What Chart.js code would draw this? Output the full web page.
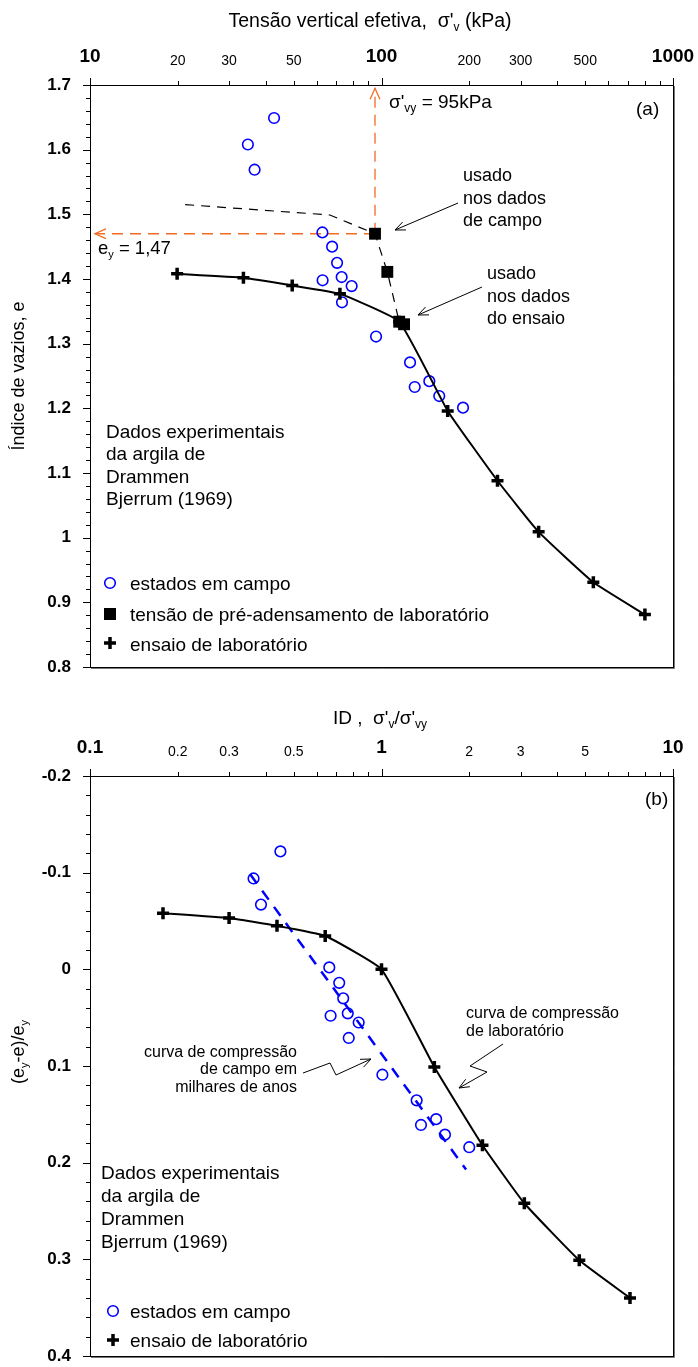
<!DOCTYPE html>
<html lang="pt">
<head>
<meta charset="utf-8">
<script src="https://cdn.jsdelivr.net/npm/chart.js@4.4.1/dist/chart.umd.min.js"></script>
<style>
  body { margin: 0; background: #fff; }
  canvas { position: absolute; left: 0; }
</style>
</head>
<body>
<canvas id="chartA" width="698" height="680" style="top:0"></canvas>
<canvas id="chartB" width="698" height="687" style="top:680px"></canvas>
<script>
const FONT = "'Liberation Sans', Arial, Helvetica, sans-serif";
const BLUE = '#0000ff';
const ORANGE = '#f26b22';

// (a) tensão vertical efetiva (kPa) x índice de vazios
const fieldSigma = [42.8, 34.8, 36.7, 62.7, 67.7, 70.4, 73.0, 62.8, 79.0, 73.2, 95.8, 125.3, 145.9, 130.0, 157.8, 190.4];
const fieldE     = [1.649, 1.608, 1.569, 1.472, 1.450, 1.425, 1.403, 1.398, 1.389, 1.364, 1.311, 1.271, 1.242, 1.233, 1.219, 1.201];
const preSigma = [95, 104.7, 115, 119.5];
const preE     = [1.47, 1.411, 1.334, 1.330];
const labSigma = [19.9, 33.6, 49.4, 72.0, 115, 168.7, 250, 346, 533, 801];
const labE     = [1.408, 1.402, 1.390, 1.377, 1.334, 1.196, 1.088, 1.009, 0.931, 0.881];
const trendSigma = [21.2, 66.5, 95, 104.7, 115];
const trendE     = [1.515, 1.499, 1.47, 1.411, 1.334];
const sigmaVy = 95;
const eY = 1.47;
const sigmaTicks  = [10, 20, 30, 40, 50, 60, 70, 80, 90, 100, 200, 300, 400, 500, 600, 700, 800, 900, 1000];
const sigmaLabels = ['10', '20', '30', '', '50', '', '', '', '', '100', '200', '300', '', '500', '', '', '', '', '1000'];
const eTicks = [0.8, 0.9, 1, 1.1, 1.2, 1.3, 1.4, 1.5, 1.6, 1.7];

// (b) ID = σ'v/σ'vy x (ey-e)/ey
const idField = [0.450, 0.364, 0.386, 0.662, 0.716, 0.739, 0.669, 0.766, 0.835, 0.772, 1.007, 1.32, 1.54, 1.366, 1.651, 2.0];
const dField  = [-0.122, -0.094, -0.067, -0.002, 0.014, 0.030, 0.048, 0.0455, 0.055, 0.071, 0.109, 0.1355, 0.155, 0.161, 0.171, 0.184];
const idLab = [0.178, 0.300, 0.438, 0.641, 1.0, 1.518, 2.22, 3.09, 4.77, 7.12];
const dLab  = [-0.058, -0.053, -0.045, -0.0345, 0.0, 0.101, 0.182, 0.242, 0.301, 0.340];
const idFit = [0.355, 1.95];
const dFit  = [-0.098, 0.207];
const idTicks  = [0.1, 0.2, 0.3, 0.4, 0.5, 0.6, 0.7, 0.8, 0.9, 1, 2, 3, 4, 5, 6, 7, 8, 9, 10];
const idLabels = ['0.1', '0.2', '0.3', '', '0.5', '', '', '', '', '1', '2', '3', '', '5', '', '', '', '', '10'];
const dTicks = [-0.2, -0.1, 0, 0.1, 0.2, 0.3, 0.4];

const pts = (xs, ys) => xs.map((x, i) => ({ x, y: ys[i] }));
const isDecade = v => Math.abs(Math.log10(v) - Math.round(Math.log10(v))) < 1e-9;

function logAxis(ticks, labels, min, max, height) {
  return {
    type: 'logarithmic', position: 'top', min, max,
    afterBuildTicks: s => { s.ticks = ticks.map(v => ({ value: v })); },
    afterFit: s => { s.height = height; s.paddingLeft = 0; s.paddingRight = 0; },
    ticks: {
      autoSkip: false, maxRotation: 0, minRotation: 0, padding: 8, color: '#000',
      callback: (v, i) => labels[i],
      font: c => isDecade(c.tick.value)
        ? { family: FONT, size: 19, weight: 'bold', lineHeight: 2.1 }
        : { family: FONT, size: 14, lineHeight: 2.3 }
    },
    grid: { display: false, drawTicks: false },
    border: { display: false }
  };
}

function valueAxis(ticks, min, max, reverse) {
  return {
    type: 'linear', position: 'left', min, max, reverse,
    afterBuildTicks: s => { s.ticks = ticks.map(v => ({ value: v })); },
    afterFit: s => { s.width = 90; s.paddingTop = 0; s.paddingBottom = 0; },
    ticks: {
      padding: 19, color: '#000',
      font: { family: FONT, size: 17, weight: 'bold' },
      callback: v => String(+v.toFixed(2))
    },
    grid: { display: false, drawTicks: false },
    border: { display: false }
  };
}

// texto com partes em subscrito (prefixo '_')
function rich(ctx, parts, x, y, size, align) {
  const sub = Math.round(size * 0.62);
  const items = parts.map(p => p[0] === '_'
    ? { t: p.slice(1), f: sub + 'px ' + FONT, dy: size * 0.22 }
    : { t: p, f: size + 'px ' + FONT, dy: 0 });
  let w = 0;
  items.forEach(it => { ctx.font = it.f; it.w = ctx.measureText(it.t).width; w += it.w; });
  let cx = align === 'center' ? x - w / 2 : align === 'right' ? x - w : x;
  const base = y + size * 0.36;
  ctx.textAlign = 'left';
  ctx.textBaseline = 'alphabetic';
  ctx.fillStyle = '#000';
  items.forEach(it => { ctx.font = it.f; ctx.fillText(it.t, cx, base + it.dy); cx += it.w; });
}

function lines(ctx, rows, x, y0, step, size, align) {
  rows.forEach((r, i) => rich(ctx, [r], x, y0 + i * step, size, align || 'left'));
}

function arrowHead(ctx, fx, fy, tx, ty, len, spread) {
  const a = Math.atan2(ty - fy, tx - fx);
  ctx.beginPath();
  ctx.moveTo(tx - len * Math.cos(a - spread), ty - len * Math.sin(a - spread));
  ctx.lineTo(tx, ty);
  ctx.lineTo(tx - len * Math.cos(a + spread), ty - len * Math.sin(a + spread));
  ctx.stroke();
}

function polyArrow(ctx, path) {
  ctx.save();
  ctx.strokeStyle = '#000';
  ctx.lineWidth = 1;
  ctx.setLineDash([]);
  ctx.beginPath();
  path.forEach(([px, py], i) => i ? ctx.lineTo(px, py) : ctx.moveTo(px, py));
  ctx.stroke();
  const n = path.length;
  arrowHead(ctx, path[n - 2][0], path[n - 2][1], path[n - 1][0], path[n - 1][1], 11, 0.4);
  ctx.restore();
}

function frameAndTicks(ctx, area, xs, xTicks, ys, yMajor, yMinorStep) {
  ctx.save();
  ctx.setLineDash([]);
  ctx.strokeStyle = '#000';
  ctx.lineWidth = 1;
  ctx.beginPath();
  xTicks.forEach(v => {
    const px = Math.round(xs.getPixelForValue(v)) + 0.5;
    ctx.moveTo(px, area.top);
    ctx.lineTo(px, area.top - (isDecade(v) ? 7 : 4));
  });
  const lo = Math.min(...yMajor), hi = Math.max(...yMajor);
  const n = Math.round((hi - lo) / yMinorStep);
  for (let k = 0; k <= n; k++) {
    const v = lo + k * yMinorStep;
    const py = Math.round(ys.getPixelForValue(v)) + 0.5;
    ctx.moveTo(area.left, py);
    ctx.lineTo(area.left - (k % 5 === 0 ? 7 : 4), py);
  }
  ctx.stroke();
  ctx.strokeRect(Math.round(area.left) + 0.5, Math.round(area.top) + 0.5,
    Math.round(area.right - area.left), Math.round(area.bottom - area.top));
  ctx.strokeStyle = '#777';
  ctx.beginPath();
  ctx.moveTo(Math.round(area.right) + 1.5, area.top + 1);
  ctx.lineTo(Math.round(area.right) + 1.5, area.bottom + 1.5);
  ctx.lineTo(area.left + 1, Math.round(area.bottom) + 1.5);
  ctx.stroke();
  ctx.restore();
}

function legendCircle(ctx, x, y) {
  ctx.save(); ctx.strokeStyle = BLUE; ctx.lineWidth = 1.6;
  ctx.beginPath(); ctx.arc(x, y, 5.3, 0, Math.PI * 2); ctx.stroke(); ctx.restore();
}
function legendSquare(ctx, x, y) {
  ctx.save(); ctx.fillStyle = '#000'; ctx.fillRect(x - 6, y - 6, 12, 12); ctx.restore();
}
function legendCross(ctx, x, y) {
  ctx.save(); ctx.strokeStyle = '#000'; ctx.lineWidth = 3.5;
  ctx.beginPath(); ctx.moveTo(x - 6, y); ctx.lineTo(x + 6, y); ctx.moveTo(x, y - 6); ctx.lineTo(x, y + 6);
  ctx.stroke(); ctx.restore();
}

const baseOptions = (padBottom, xAxis, yAxis) => ({
  responsive: false,
  animation: false,
  events: [],
  layout: { padding: { left: 0, top: 0, right: 25, bottom: padBottom } },
  plugins: { legend: { display: false }, tooltip: { enabled: false } },
  scales: { x: xAxis, y: yAxis }
});

const fieldStyle = {
  pointStyle: 'circle', pointRadius: 5.3, pointBorderWidth: 1.6,
  pointBorderColor: BLUE, pointBackgroundColor: 'rgba(0,0,0,0)', borderColor: BLUE
};
const labStyle = {
  showLine: true, borderColor: '#000', borderWidth: 2, tension: 0.12,
  pointStyle: 'cross', pointRadius: 6, pointBorderWidth: 3.5, pointBorderColor: '#000'
};

const decorA = {
  id: 'decorA',
  afterDraw(chart) {
    const { ctx, chartArea: a, scales: { x, y } } = chart;
    frameAndTicks(ctx, a, x, sigmaTicks, y, eTicks, 0.02);

    // setas laranja de σ'vy e ey
    ctx.save();
    ctx.strokeStyle = ORANGE; ctx.lineWidth = 1.3;
    const vx = x.getPixelForValue(sigmaVy);
    arrowHead(ctx, vx, y.getPixelForValue(eY), vx, y.getPixelForValue(1.695), 12, 0.42);
    const hy = y.getPixelForValue(eY);
    arrowHead(ctx, vx, hy, x.getPixelForValue(10.4), hy, 12, 0.42);
    ctx.restore();

    rich(ctx, ["Tensão vertical efetiva,  σ'", '_v', ' (kPa)'], 370, 20, 19.5, 'center');
    rich(ctx, ["σ'", '_vy', ' = 95kPa'], 389, 101, 19, 'left');
    rich(ctx, ['(a)'], 636, 108, 19, 'left');
    rich(ctx, ['e', '_y', ' = 1,47'], 98, 247, 18.5, 'left');

    lines(ctx, ['usado', 'nos dados', 'de campo'], 463, 175, 22.5, 18);
    polyArrow(ctx, [[458, 203], [395, 230]]);
    lines(ctx, ['usado', 'nos dados', 'do ensaio'], 487, 273, 22.5, 18);
    polyArrow(ctx, [[482, 287], [418, 315]]);

    lines(ctx, ['Dados experimentais', 'da argila de', 'Drammen', 'Bjerrum (1969)'], 106, 431, 22.5, 19);

    legendCircle(ctx, 110, 583);
    legendSquare(ctx, 110, 614);
    legendCross(ctx, 110, 643);
    rich(ctx, ['estados em campo'], 130, 583, 19, 'left');
    rich(ctx, ['tensão de pré-adensamento de laboratório'], 130, 614, 19, 'left');
    rich(ctx, ['ensaio de laboratório'], 130, 644, 19, 'left');

    ctx.save();
    ctx.translate(18, 376);
    ctx.rotate(-Math.PI / 2);
    rich(ctx, ['Índice de vazios, e'], 0, 0, 18, 'center');
    ctx.restore();
  }
};

new Chart(document.getElementById('chartA'), {
  type: 'scatter',
  data: {
    datasets: [
      { label: 'tensão de pré-adensamento de laboratório', data: pts(preSigma, preE),
        pointStyle: 'rect', pointRadius: 8.4, pointBackgroundColor: '#000', pointBorderWidth: 0 },
      { label: 'ensaio de laboratório', data: pts(labSigma, labE), ...labStyle },
      { label: 'estados em campo', data: pts(fieldSigma, fieldE), ...fieldStyle },
      { data: pts(trendSigma, trendE), showLine: true, borderColor: '#000', borderWidth: 1.2,
        borderDash: [9, 7], pointRadius: 0 },
      { data: [{ x: sigmaVy, y: eY }, { x: sigmaVy, y: 1.695 }], showLine: true, borderColor: ORANGE,
        borderWidth: 1.3, borderDash: [11, 7], pointRadius: 0 },
      { data: [{ x: sigmaVy, y: eY }, { x: 10.4, y: eY }], showLine: true, borderColor: ORANGE,
        borderWidth: 1.3, borderDash: [11, 7], pointRadius: 0 }
    ]
  },
  options: baseOptions(13, logAxis(sigmaTicks, sigmaLabels, 10, 1000, 85), valueAxis(eTicks, 0.8, 1.7, false)),
  plugins: [decorA]
});

const decorB = {
  id: 'decorB',
  afterDraw(chart) {
    const { ctx, chartArea: a, scales: { x, y } } = chart;
    frameAndTicks(ctx, a, x, idTicks, y, dTicks, 0.02);

    rich(ctx, ['ID ,  σ\'', '_v', '/σ\'', '_vy'], 380, 37, 19, 'center');
    rich(ctx, ['(b)'], 645, 118, 19, 'left');

    lines(ctx, ['curva de compressão', 'de laboratório'], 466, 332, 18.5, 16);
    polyArrow(ctx, [[503, 364], [470, 386], [487, 392], [459, 408]]);
    lines(ctx, ['curva de compressão', 'de campo em', 'milhares de anos'], 297, 371, 17.7, 16, 'right');
    polyArrow(ctx, [[303, 393], [330, 383], [336, 395], [371, 379]]);

    lines(ctx, ['Dados experimentais', 'da argila de', 'Drammen', 'Bjerrum (1969)'], 101, 492, 23, 19);

    legendCircle(ctx, 113, 631);
    legendCross(ctx, 113, 660);
    rich(ctx, ['estados em campo'], 130, 631, 19, 'left');
    rich(ctx, ['ensaio de laboratório'], 130, 660, 19, 'left');

    ctx.save();
    ctx.translate(18, 372);
    ctx.rotate(-Math.PI / 2);
    rich(ctx, ['(e', '_y', '-e)/e', '_y'], 0, 0, 18, 'center');
    ctx.restore();
  }
};

new Chart(document.getElementById('chartB'), {
  type: 'scatter',
  data: {
    datasets: [
      { label: 'ensaio de laboratório', data: pts(idLab, dLab), ...labStyle },
      { label: 'estados em campo', data: pts(idField, dField), ...fieldStyle },
      { data: pts(idFit, dFit), showLine: true, borderColor: BLUE, borderWidth: 2.5,
        borderDash: [11, 9], pointRadius: 0 }
    ]
  },
  options: baseOptions(11, logAxis(idTicks, idLabels, 0.1, 10, 96), valueAxis(dTicks, -0.2, 0.4, true)),
  plugins: [decorB]
});
</script>
</body>
</html>
